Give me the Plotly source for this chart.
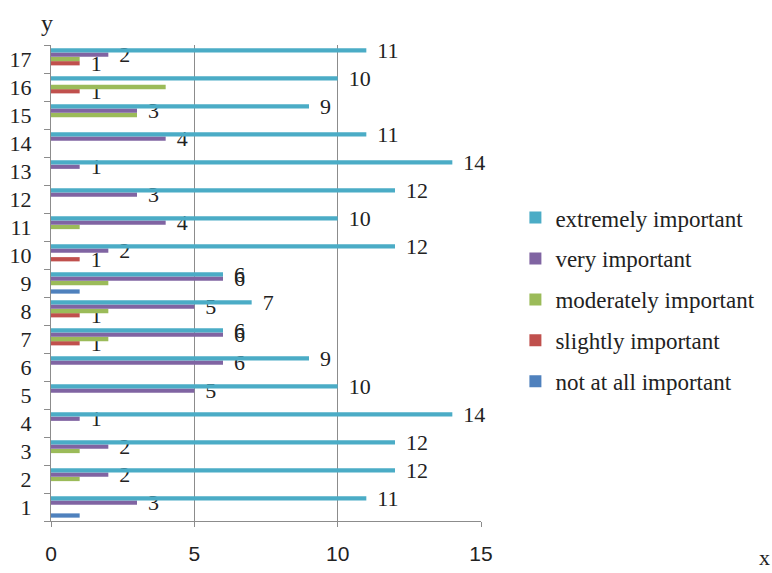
import plotly.graph_objects as go

categories = [str(i) for i in range(1, 18)]
not_at_all = [1, 0, 0, 0, 0, 0, 0, 0, 1, 0, 0, 0, 0, 0, 0, 0, 0]
slightly = [0, 0, 0, 0, 0, 0, 1, 1, 0, 1, 0, 0, 0, 0, 0, 1, 1]
moderately = [0, 1, 1, 0, 0, 0, 2, 2, 2, 0, 1, 0, 0, 0, 3, 4, 1]
very = [3, 2, 2, 1, 5, 6, 6, 5, 6, 2, 4, 3, 1, 4, 3, 0, 2]
extremely = [11, 12, 12, 14, 10, 9, 6, 7, 6, 12, 10, 12, 14, 11, 9, 10, 11]
x_ticks = [0, 5, 10, 15]

series = [
    ("not at all important", not_at_all, "#4F81BD", False),
    ("slightly important", slightly, "#C0504D", True),
    ("moderately important", moderately, "#9BBB59", False),
    ("very important", very, "#8064A2", True),
    ("extremely important", extremely, "#4BACC6", True),
]

SERIF = "Liberation Serif"
NB = "\u00a0"

fig = go.Figure()
for i, (name, vals, color, labelled) in enumerate(series):
    texts = [(NB * 2 + str(v)) if (labelled and v) else "" for v in vals]
    fig.add_trace(go.Bar(
        y=categories, x=vals, name=name, orientation="h",
        marker=dict(color=color, line=dict(width=0)),
        text=texts, textposition="outside", constraintext="none",
        cliponaxis=False,
        textfont=dict(family=SERIF, size=22, color="#222222"),
        legendgroup=name, legendrank=1000 - i * 10,
    ))

fig.update_layout(
    width=772, height=573,
    margin=dict(l=51, r=291, t=45, b=52),
    paper_bgcolor="white", plot_bgcolor="white",
    barmode="group", bargap=0.24, bargroupgap=0,
    showlegend=True,
    legend=dict(
        x=1.08, xanchor="left", y=0.465, yanchor="middle",
        traceorder="grouped", tracegroupgap=8,
        font=dict(family=SERIF, size=23, color="#222222"),
        bgcolor="rgba(0,0,0,0)",
    ),
    xaxis=dict(
        range=[0, 15], tickvals=x_ticks, showgrid=True, gridcolor="#8c8c8c",
        gridwidth=1, showline=True, linecolor="#8c8c8c", ticks="outside",
        ticklen=5, tickcolor="#8c8c8c", zeroline=False, automargin=False,
        ticklabelstandoff=9,
        tickfont=dict(family="Liberation Sans", size=21, color="#222222"),
    ),
    yaxis=dict(
        type="category", showline=True, linecolor="#8c8c8c", ticks="outside",
        tickson="boundaries", ticklen=6, tickcolor="#8c8c8c", showgrid=False,
        automargin=False, ticklabelstandoff=14,
        tickfont=dict(family=SERIF, size=22, color="#222222"),
    ),
    annotations=[
        dict(text="y", xref="paper", yref="paper", x=-0.01, y=1.015,
             xanchor="center", yanchor="bottom", showarrow=False,
             font=dict(family=SERIF, size=24, color="#222222")),
        dict(text="x", xref="paper", yref="paper", x=1.66, y=-0.108,
             xanchor="center", yanchor="bottom", showarrow=False,
             font=dict(family=SERIF, size=22, color="#222222")),
    ],
)

fig.write_html("out.html")
